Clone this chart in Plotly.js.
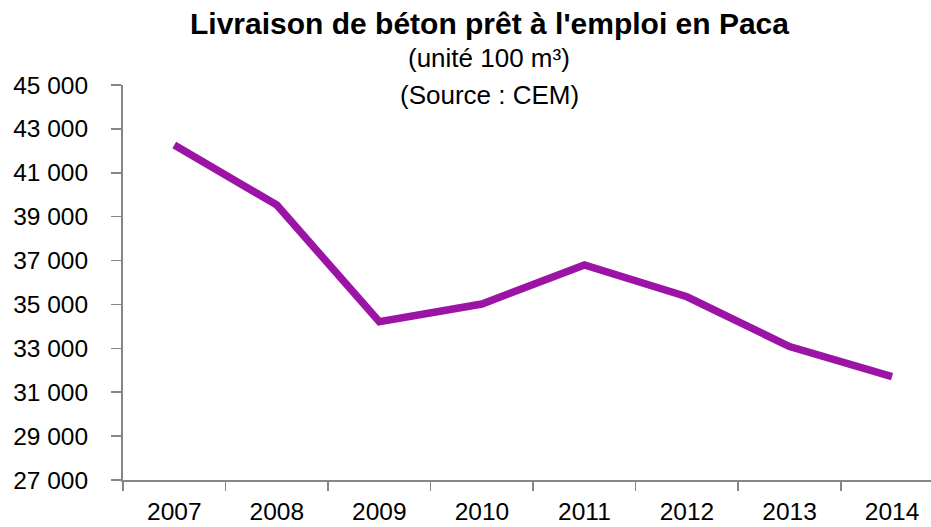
<!DOCTYPE html>
<html>
<head>
<meta charset="utf-8">
<script src="https://cdn.plot.ly/plotly-3.0.1.min.js"></script>
<style>html,body{margin:0;padding:0;background:#fff;}#chart{width:931px;height:527px;}</style>
</head>
<body>
<div id="chart"></div>
<script>
const years = ['2007','2008','2009','2010','2011','2012','2013','2014'];
const livraisons = [42270, 39530, 34210, 35020, 36800, 35350, 33080, 31710];
const yTicks = [27000, 29000, 31000, 33000, 35000, 37000, 39000, 41000, 43000, 45000];

const FONT = '"Liberation Sans", Arial, sans-serif';
const PH = 527 - 85 - 47;
function py(px){ return (480 - px) / PH; }
const tx = (489 - 123) / (931 - 123);

const trace = {
  x: years, y: livraisons, type: 'scatter', mode: 'lines',
  line: {color: '#9C14A5', width: 7.5, shape: 'linear'},
  hoverinfo: 'skip'
};

const layout = {
  width: 931, height: 527,
  margin: {l: 123, r: 0, t: 85, b: 47, autoexpand: false},
  paper_bgcolor: '#ffffff', plot_bgcolor: '#ffffff',
  showlegend: false,
  separators: ', ',
  font: {family: FONT, color: '#000000', size: 24},
  xaxis: {
    type: 'category', range: [-0.5, 7.38],
    showgrid: false, zeroline: false,
    showline: true, linecolor: '#868686', linewidth: 2,
    ticks: 'outside', tickson: 'boundaries', ticklen: 9, tickcolor: '#868686', tickwidth: 1.5,
    tickfont: {family: FONT, size: 24.5, color: '#000'},
    ticklabelstandoff: 9,
    fixedrange: true
  },
  yaxis: {
    range: [27000, 45000], tickvals: yTicks, tickformat: ',d',
    showgrid: false, zeroline: false,
    showline: true, linecolor: '#868686', linewidth: 2,
    ticks: 'outside', ticklen: 10, tickcolor: '#868686', tickwidth: 1.5,
    tickfont: {family: FONT, size: 24.5, color: '#000'},
    ticklabelstandoff: 18,
    fixedrange: true
  },
  annotations: [
    {text: "<b>Livraison de béton prêt à l'emploi en Paca</b>", xref: 'paper', yref: 'paper',
     x: tx, y: py(23), xanchor: 'center', yanchor: 'middle', showarrow: false,
     font: {family: FONT, size: 30, color: '#000'}},
    {text: '(unité 100 m³)', xref: 'paper', yref: 'paper',
     x: tx, y: py(58), xanchor: 'center', yanchor: 'middle', showarrow: false,
     font: {family: FONT, size: 26, color: '#000'}},
    {text: '(Source : CEM)', xref: 'paper', yref: 'paper',
     x: tx, y: py(95), xanchor: 'center', yanchor: 'middle', showarrow: false,
     font: {family: FONT, size: 26, color: '#000'}}
  ]
};

Plotly.newPlot('chart', [trace], layout, {displayModeBar: false, staticPlot: true});
</script>
</body>
</html>
